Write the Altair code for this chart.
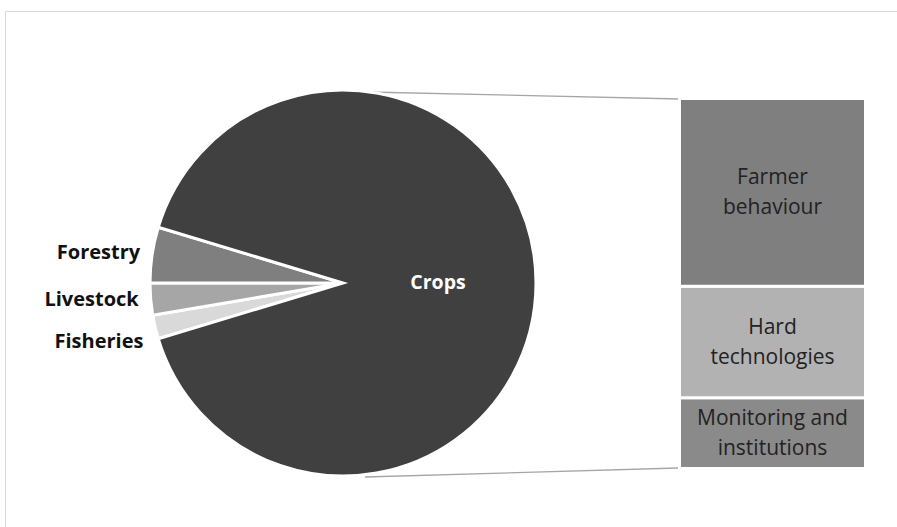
import math
import altair as alt
import pandas as pd

# ---------------- data ----------------
pie_cats = ["Fisheries", "Livestock", "Forestry", "Crops"]
pie_vals = [3, 4, 7, 136]
pie_colors = ["#d9d9d9", "#a6a6a6", "#7f7f7f", "#404040"]

bar_cats = ["Monitoring and institutions", "Hard technologies", "Farmer behaviour"]
bar_vals = [26, 41, 69]
bar_labels = ["Monitoring and\ninstitutions", "Hard\ntechnologies", "Farmer\nbehaviour"]
bar_colors = ["#8a8a8a", "#b2b2b2", "#7f7f7f"]

# ---------------- layout ----------------
W, H = 897, 527
CX, CY, R = 343, 283, 193
BAR_X0, BAR_X1 = 679.5, 865.5
BAR_TOP, BAR_BOTTOM = 98.5, 468.5
FONT = "Open Sans"

total_pie = sum(pie_vals)
# small slices sit just below the 9 o'clock direction, Forestry just above
start = 1.5 * math.pi - 2 * math.pi * (pie_vals[0] + pie_vals[1]) / total_pie

pie_df = pd.DataFrame({"cat": pie_cats, "value": pie_vals, "ord": list(range(len(pie_cats)))})
bar_df = pd.DataFrame({"cat": bar_cats, "value": bar_vals, "label": bar_labels,
                       "ord": list(range(len(bar_cats)))})

color_scale = alt.Scale(domain=pie_cats + bar_cats, range=pie_colors + bar_colors)
theta = alt.Theta("value:Q", stack=True,
                  scale=alt.Scale(domain=[0, total_pie], range=[start, start + 2 * math.pi]))

one = alt.Data(values=[{}])

# frame (cropped on the right and bottom)
frame_top = alt.Chart(one).mark_rule(color="#d9d9d9", strokeWidth=1).encode(
    x=alt.value(5.5), x2=alt.value(W), y=alt.value(11.5), y2=alt.value(11.5))
frame_left = alt.Chart(one).mark_rule(color="#d9d9d9", strokeWidth=1).encode(
    x=alt.value(5.5), x2=alt.value(5.5), y=alt.value(11.5), y2=alt.value(H))

# connector lines
conn_top = alt.Chart(one).mark_rule(color="#a6a6a6", strokeWidth=1.3).encode(
    x=alt.value(367), y=alt.value(92), x2=alt.value(680), y2=alt.value(99))
conn_bot = alt.Chart(one).mark_rule(color="#a6a6a6", strokeWidth=1.3).encode(
    x=alt.value(365), y=alt.value(477), x2=alt.value(678), y2=alt.value(468))

pie_base = alt.Chart(pie_df).encode(
    theta=theta,
    order=alt.Order("ord:Q"),
    x=alt.value(CX),
    y=alt.value(CY),
)

arcs = pie_base.mark_arc(radius=R, stroke="white", strokeWidth=3).encode(
    color=alt.Color("cat:N", scale=color_scale, legend=None))

lab_main = pie_base.transform_calculate(
    lab="(datum.cat == 'Forestry' || datum.cat == 'Livestock') ? datum.cat : ''"
).mark_text(radius=205, align="right", baseline="middle", font=FONT,
            fontWeight="bold", fontSize=20, color="#111111").encode(
    text="lab:N", detail="cat:N")

lab_fish = pie_base.transform_calculate(
    lab="datum.cat == 'Fisheries' ? datum.cat : ''"
).mark_text(radius=205, dy=12, align="right", baseline="middle", font=FONT,
            fontWeight="bold", fontSize=20, color="#111111").encode(
    text="lab:N", detail="cat:N")

lab_crops = pie_base.transform_calculate(
    lab="datum.cat == 'Crops' ? datum.cat : ''"
).mark_text(radius=95, align="center", baseline="middle", font=FONT,
            fontWeight="bold", fontSize=19.5, color="white").encode(
    text="lab:N", detail="cat:N")

yscale = alt.Scale(domain=[0, sum(bar_vals)], range=[BAR_BOTTOM, BAR_TOP])

bar_base = alt.Chart(bar_df).transform_stack(
    stack="value", groupby=[], as_=["v0", "v1"],
    sort=[alt.SortField("ord", order="ascending")]
).transform_calculate(mid="(datum.v0 + datum.v1) / 2")

bars = bar_base.mark_rect(stroke="white", strokeWidth=3).encode(
    y=alt.Y("v0:Q", scale=yscale, axis=None),
    y2="v1:Q",
    x=alt.value(BAR_X0),
    x2=alt.value(BAR_X1),
    color=alt.Color("cat:N", scale=color_scale, legend=None),
)

bar_text = bar_base.mark_text(lineBreak="\n", align="center", baseline="middle",
                              font=FONT, fontSize=21, lineHeight=30, dy=-14,
                              color="#222222").encode(
    y=alt.Y("mid:Q", scale=yscale, axis=None),
    x=alt.value((BAR_X0 + BAR_X1) / 2),
    text="label:N",
)

chart = alt.layer(
    frame_top, frame_left, conn_top, conn_bot, arcs, lab_main, lab_fish, lab_crops,
    bars, bar_text
).properties(
    width=W, height=H, padding=0, background="white",
    autosize=alt.AutoSizeParams(type="none")
).configure_view(stroke=None)

chart.save("out.html", embed_options={"renderer": "svg", "actions": False})
